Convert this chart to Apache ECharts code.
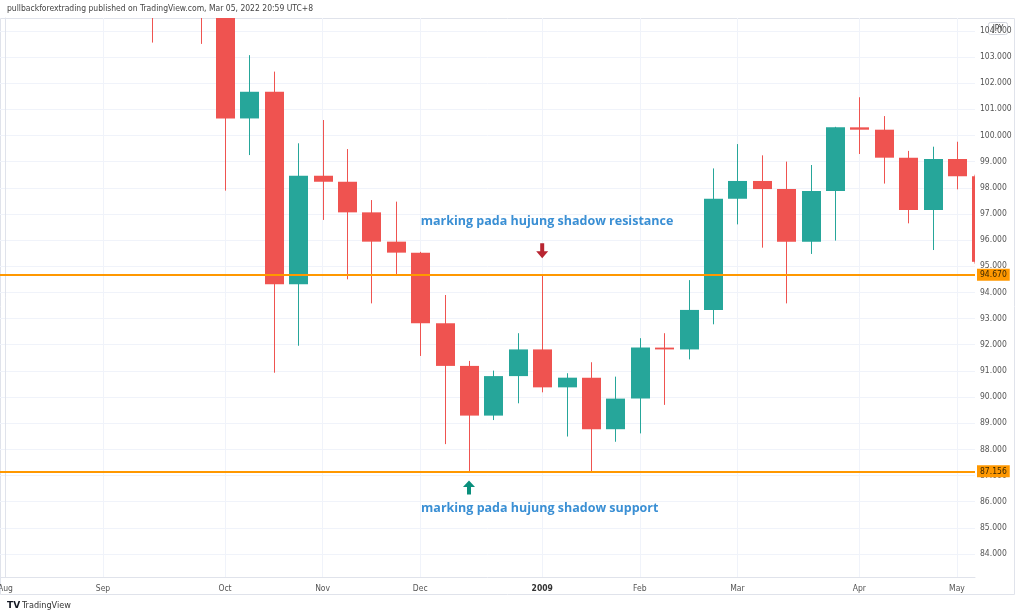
<!DOCTYPE html>
<html>
<head>
<meta charset="utf-8">
<script src="https://cdn.jsdelivr.net/npm/echarts@6/dist/echarts.min.js"></script>
<style>
html,body{margin:0;padding:0;background:#fff;}
#chart{width:1024px;height:616px;}
</style>
</head>
<body>
<div id="chart"></div>
<script>
// Weekly USD/JPY candles, week index 0 = week of 2008-08-04
const weeks = ['2008-08-04','2008-08-11','2008-08-18','2008-08-25','2008-09-01','2008-09-08','2008-09-15','2008-09-22','2008-09-29',
  '2008-10-06','2008-10-13','2008-10-20','2008-10-27','2008-11-03','2008-11-10','2008-11-17','2008-11-24',
  '2008-12-01','2008-12-08','2008-12-15','2008-12-22','2008-12-29','2009-01-05','2009-01-12','2009-01-19','2009-01-26',
  '2009-02-02','2009-02-09','2009-02-16','2009-02-23','2009-03-02','2009-03-09','2009-03-16','2009-03-23','2009-03-30',
  '2009-04-06','2009-04-13','2009-04-20','2009-04-27','2009-05-04','2009-05-11'];
const opens  = [107.8,109.9,110.5,109.4,108.8,107.9,107.8,105.6,106.0,105.4,100.65,101.67,94.31,98.46,98.23,97.06,95.94,95.52,92.82,91.19,89.29,90.80,91.82,90.37,90.74,88.77,89.94,91.89,91.82,93.33,97.58,98.26,97.95,95.94,97.88,100.31,100.22,99.15,97.15,99.10,98.44];
const closes = [109.9,110.5,109.4,108.8,107.9,107.8,105.6,106.0,105.4,100.65,101.67,94.31,98.46,98.23,97.06,95.94,95.52,92.82,91.19,89.29,90.80,91.82,90.37,90.74,88.77,89.94,91.89,91.82,93.33,97.58,98.26,97.95,95.94,97.88,100.31,100.22,99.15,97.15,99.10,98.44,95.17];
const lows   = [107.5,108.9,108.6,108.3,105.9,106.6,103.55,104.8,103.50,97.89,99.25,90.93,91.96,96.77,94.50,93.58,94.63,91.57,88.20,87.156,89.12,89.76,90.18,88.49,87.15,88.29,88.61,89.70,91.44,92.78,96.60,95.71,93.58,95.47,95.98,99.29,98.16,96.64,95.62,97.94,95.10];
const highs  = [110.0,110.7,110.6,110.1,109.0,108.3,108.0,107.0,106.7,105.9,103.07,102.44,99.70,100.59,99.48,97.53,97.47,95.55,93.90,91.38,91.01,92.44,94.67,90.91,91.33,90.78,92.25,92.44,94.47,98.74,99.67,99.24,99.00,98.87,100.33,101.46,100.74,99.41,99.57,99.76,98.50];

// axis ticks
const monthTickIdx = [0,4,9,13,17,22,26,30,35,39];
const monthTickLabels = ['Aug','Sep','Oct','Nov','Dec','2009','Feb','Mar','Apr','May'];
const priceTicks = [84,85,86,87,88,89,90,91,92,93,94,95,96,97,98,99,100,101,102,103,104];

// horizontal levels
const resistanceLevel = 94.670;
const supportLevel = 87.156;
const resistanceText = 'marking pada hujung shadow resistance';
const supportText = 'marking pada hujung shadow support';
const headerText = 'pullbackforextrading published on TradingView.com, Mar 05, 2022 20:59 UTC+8';

const candleData = weeks.map((w, i) => [i, opens[i], closes[i], lows[i], highs[i]]);
const narrow = "'Liberation Sans Narrow', 'DejaVu Sans Condensed', 'Open Sans', sans-serif";
const UP = '#26a69a', DOWN = '#ef5350';

const chart = echarts.init(document.getElementById('chart'), null, {renderer: 'canvas'});
const arrowDown = 'path://M4,0 L8,0 L8,8 L12,8 L6,15 L0,8 L4,8 Z';
const arrowUp = 'path://M6,0 L12,7 L8,7 L8,15 L4,15 L4,7 L0,7 Z';

function renderCandle(params, api) {
  const i = api.value(0), o = api.value(1), c = api.value(2), l = api.value(3), h = api.value(4);
  const pO = api.coord([i, o]), pC = api.coord([i, c]), pL = api.coord([i, l]), pH = api.coord([i, h]);
  const cs = params.coordSys;
  const area = {x: cs.x, y: cs.y, width: cs.width, height: cs.height};
  const color = c >= o ? UP : DOWN;
  const bw = 19;
  const children = [];
  const cx = Math.round(pO[0]);
  if (pL[1] >= cs.y && pH[1] <= cs.y + cs.height) {
    const pts = echarts.graphic.clipPointsByRect([[cx + 0.5, pH[1]], [cx + 0.5, pL[1]]], area);
    children.push({type: 'polyline', shape: {points: pts}, style: {stroke: color, lineWidth: 1, fill: null}});
  }
  const top = Math.min(pO[1], pC[1]);
  const hgt = Math.max(Math.abs(pO[1] - pC[1]), 1.5);
  const body = echarts.graphic.clipRectByRect({x: cx - 9, y: top, width: bw, height: hgt}, area);
  if (body && body.width > 0 && body.height > 0) {
    children.push({type: 'rect', shape: body, style: {fill: color}});
  }
  return {type: 'group', children};
}

chart.setOption({
  animation: false,
  backgroundColor: '#ffffff',
  title: {
    text: headerText, left: 7, top: 4, padding: 0,
    textStyle: {fontSize: 8.5, fontWeight: 'normal', color: '#444', fontFamily: narrow}
  },
  grid: {left: 0, right: 49, top: 18, bottom: 39, containLabel: false, outerBoundsMode: 'none'},
  xAxis: {
    type: 'value',
    min: -0.2213, max: 39.738,
    axisLine: {show: true, lineStyle: {color: '#e0e3eb'}},
    axisTick: {show: false, customValues: monthTickIdx},
    axisLabel: {
      customValues: monthTickIdx,
      margin: 7,
      fontSize: 8.5,
      color: '#555',
      fontFamily: narrow,
      formatter: v => {
        const k = monthTickIdx.indexOf(Math.round(v));
        const t = k >= 0 ? monthTickLabels[k] : '';
        return /^\d{4}$/.test(t) ? '{b|' + t + '}' : t;
      },
      rich: {b: {fontWeight: 'bold', fontSize: 8.5, color: '#333', fontFamily: narrow}}
    },
    splitLine: {show: true, lineStyle: {color: '#f0f3fa', width: 1}}
  },
  yAxis: {
    type: 'value',
    position: 'right',
    min: 83.12, max: 104.49,
    scale: true,
    axisLine: {show: true, lineStyle: {color: '#e0e3eb'}},
    axisTick: {show: false, customValues: priceTicks},
    axisLabel: {
      customValues: priceTicks,
      margin: 5,
      fontSize: 8.5,
      color: '#555',
      fontFamily: narrow,
      formatter: v => v.toFixed(3)
    },
    splitLine: {show: true, lineStyle: {color: '#f0f3fa', width: 1}}
  },
  series: [
    {
      type: 'line',
      data: [],
      z: 1,
      silent: true,
      markLine: {
        silent: true,
        symbol: ['none', 'none'],
        lineStyle: {color: '#ff9800', width: 2, type: 'solid'},
        label: {
          show: true, position: 'end', distance: 2,
          formatter: p => p.name,
          backgroundColor: '#ff9800', color: '#3a2600',
          padding: [2, 3, 1, 3], fontSize: 8.5, fontFamily: narrow
        },
        data: [
          {yAxis: resistanceLevel, name: resistanceLevel.toFixed(3)},
          {yAxis: supportLevel, name: supportLevel.toFixed(3)}
        ]
      },
      markPoint: {
        silent: true,
        data: [
          {coord: [22, resistanceLevel], symbol: arrowDown, symbolSize: [12, 15], symbolOffset: [0, -24],
           itemStyle: {color: '#b82531'}, label: {show: false}},
          {coord: [19, supportLevel], symbol: arrowUp, symbolSize: [12, 14], symbolOffset: [0, 16],
           itemStyle: {color: '#0a8f7c'}, label: {show: false}},
          {coord: [22.2, 96.73], symbol: 'rect', symbolSize: 0,
           label: {show: true, position: 'inside', formatter: resistanceText,
             fontSize: 12.5, fontWeight: 'bold', color: '#3a8fd4', fontFamily: "'Open Sans', sans-serif"}},
          {coord: [21.9, 85.76], symbol: 'rect', symbolSize: 0,
           label: {show: true, position: 'inside', formatter: supportText,
             fontSize: 12.5, fontWeight: 'bold', color: '#3a8fd4', fontFamily: "'Open Sans', sans-serif"}}
        ]
      }
    },
    {
      type: 'custom',
      z: 2,
      renderItem: renderCandle,
      encode: {x: 0, y: [1, 2, 3, 4]},
      data: candleData,
      clip: true
    }
  ],
  graphic: [
    {type: 'rect', shape: {x: 0.5, y: 18.5, width: 1014, height: 576}, style: {fill: 'none', stroke: '#e0e3eb', lineWidth: 1}, silent: true, z: 0},
    {type: 'group', left: 988, top: 22, z: 100, children: [
      {type: 'rect', shape: {x: 0, y: 0, width: 19, height: 12, r: 2}, style: {fill: '#ffffff', stroke: '#d1d4dc', lineWidth: 1}},
      {type: 'text', x: 9.5, y: 6.5, style: {text: 'JPY', fontSize: 8, fill: '#333', align: 'center', verticalAlign: 'middle', fontFamily: narrow}}
    ]},
    {type: 'text', left: 7, top: 601, z: 100, style: {text: 'TV', fontSize: 9, fontWeight: 'bold', fill: '#131722', fontFamily: "'DejaVu Sans', sans-serif"}},
    {type: 'text', left: 22, top: 601, z: 100, style: {text: 'TradingView', fontSize: 9, fill: '#333', fontFamily: narrow}}
  ]
});
</script>
</body>
</html>
